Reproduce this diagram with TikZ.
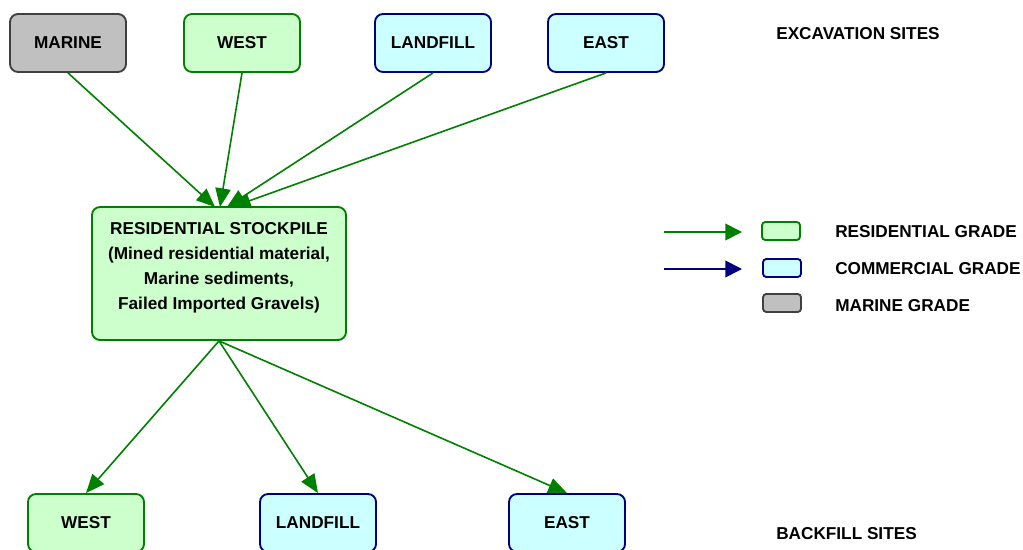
\documentclass[tikz,border=0pt]{standalone}
\usepackage{fontspec}
\setmainfont{Liberation Sans}
\usetikzlibrary{arrows.meta}
\definecolor{resfill}{HTML}{CCFFCC}
\definecolor{resline}{HTML}{008000}
\definecolor{comfill}{HTML}{CCFFFF}
\definecolor{comline}{HTML}{000080}
\definecolor{marfill}{HTML}{C0C0C0}
\definecolor{marline}{HTML}{404040}
\begin{document}
\begin{tikzpicture}[x=0.75pt,y=-0.75pt,
  txt/.style={font=\fontsize{12.9}{18.75}\selectfont\bfseries},
  site/.style={txt,draw,line width=1.4pt,rounded corners=6pt,minimum width=87pt,minimum height=43.5pt,inner sep=0pt},
  resbox/.style={site,fill=resfill,draw=resline},
  combox/.style={site,fill=comfill,draw=comline},
  marbox/.style={site,fill=marfill,draw=marline},
  key/.style={draw,line width=1.4pt,rounded corners=2.5pt,minimum width=28.5pt,minimum height=13.5pt,inner sep=0pt},
  flow/.style={line width=1.2pt,draw=resline,-{Triangle[length=14pt,width=11.5pt]},fill=resline},
  keyarrow/.style={line width=1.2pt,-{Triangle[length=12.5pt,width=12.5pt]}},
  heading/.style={txt,anchor=west,inner sep=0pt}]
\useasboundingbox (0,0) rectangle (1023,549);
\begin{scope}
\clip (0,0) rectangle (1023,549);

% excavation sites
\node[marbox] (marine) at (68,43) {MARINE};
\node[resbox] (westx) at (242,43) {WEST};
\node[combox] (landx) at (433,43) {LANDFILL};
\node[combox] (eastx) at (606,43) {EAST};

% stockpile
\node[resbox,minimum width=190.5pt,minimum height=99.75pt] (stock) at (219,273.5) {};
\node[txt,align=center,inner sep=0pt] (stocktext) at (219,267.5)
  {RESIDENTIAL STOCKPILE\\(Mined residential material,\\Marine sediments,\\Failed Imported Gravels)};

% backfill sites
\node[resbox] (westb) at (86,523) {WEST};
\node[combox] (landb) at (318,523) {LANDFILL};
\node[combox] (eastb) at (567,523) {EAST};

% flows into the stockpile
\coordinate (inA) at (215,207);
\coordinate (inB) at (220,207);
\coordinate (inC) at (227,207);
\coordinate (inD) at (232,207);
\draw[flow] (marine.south) -- (inA);
\draw[flow] (westx.south) -- (inB);
\draw[flow] (landx.south) -- (inC);
\draw[flow] (eastx.south) -- (inD);

% flows out to backfill
\draw[flow] (stock.south) -- (westb.north);
\draw[flow] (stock.south) -- (landb.north);
\draw[flow] (stock.south) -- (eastb.north);
\end{scope}

% headings
\node[heading] (exc) at (776,34) {EXCAVATION SITES};
\node[heading] (bkf) at (776,534) {BACKFILL SITES};

% legend
\coordinate (ga) at (664,232);
\coordinate (gb) at (742,232);
\coordinate (ba) at (664,269);
\coordinate (bb) at (742,269);
\draw[keyarrow,draw=resline,fill=resline] (ga) -- (gb);
\draw[keyarrow,draw=comline,fill=comline] (ba) -- (bb);
\node[key,fill=resfill,draw=resline] (kres) at (781,231) {};
\node[key,fill=comfill,draw=comline] (kcom) at (782,268) {};
\node[key,fill=marfill,draw=marline] (kmar) at (782,303) {};
\node[heading] (lres) at (835,232) {RESIDENTIAL GRADE};
\node[heading] (lcom) at (835,269) {COMMERCIAL GRADE};
\node[heading] (lmar) at (835,306) {MARINE GRADE};
\end{tikzpicture}
\end{document}
